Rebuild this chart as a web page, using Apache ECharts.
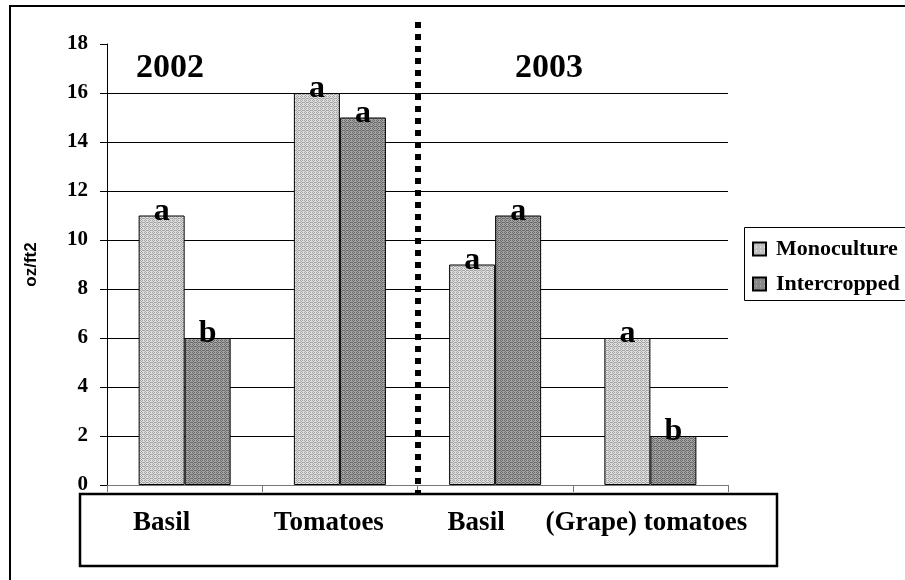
<!DOCTYPE html>
<html>
<head>
<meta charset="utf-8">
<script src="https://cdn.jsdelivr.net/npm/echarts@6/dist/echarts.min.js"></script>
<style>
  html, body { margin: 0; padding: 0; background: #ffffff; }
  #chart { width: 905px; height: 580px; }
</style>
</head>
<body>
<div id="chart"></div>
<script>
// Yield per crop and year (oz/ft2)
const categories = ['Basil', 'Tomatoes', 'Basil', '(Grape) tomatoes'];
const monoculture = [11, 16, 9, 6];
const intercropped = [6, 15, 11, 2];
// Significance letters drawn above each bar
const monoLetters = ['a', 'a', 'a', 'a'];
const interLetters = ['b', 'a', 'a', 'b'];
const yearLabels = ['2002', '2003'];
const yMin = 0, yMax = 18, yStep = 2;

const SERIF = '"Liberation Serif", "Times New Roman", serif';

// Small stippled fills for the bars
function stipple(light, dark) {
  const c = document.createElement('canvas');
  c.width = 4; c.height = 4;
  const g = c.getContext('2d');
  g.fillStyle = light; g.fillRect(0, 0, 4, 4);
  g.fillStyle = dark;
  [[0,0],[2,0],[1,1],[3,2],[0,2],[2,2],[1,3]].forEach(p => g.fillRect(p[0], p[1], 1, 1));
  return { image: c, repeat: 'repeat' };
}
const monoFill = stipple('#dedede', '#a4a4a4');
const interFill = stipple('#a4a4a4', '#6a6a6a');

// Per-label horizontal nudges for the category names
const labelShift = { c0: 46, c1: 22, c2: 38, c3: 8 };
const richLabels = {};
Object.keys(labelShift).forEach(k => {
  richLabels[k] = {
    fontFamily: SERIF, fontWeight: 'bold', fontSize: 27, color: '#000',
    padding: [0, labelShift[k], 0, 0]
  };
});

const chart = echarts.init(document.getElementById('chart'), null, { renderer: 'canvas' });

const letterLabel = (letters) => ({
  show: true,
  position: 'top',
  distance: -12,
  formatter: p => letters[p.dataIndex],
  fontFamily: SERIF,
  fontWeight: 'bold',
  fontSize: 32,
  color: '#000'
});

// Ten horizontal grid lines (0..18); the top one is not drawn
const splitColors = [];
for (let v = yMin; v <= yMax; v += yStep) splitColors.push(v === yMax ? 'rgba(0,0,0,0)' : '#000');

chart.setOption({
  animation: false,
  backgroundColor: '#ffffff',
  grid: { left: 107, right: 177, top: 44, bottom: 95 },
  legend: {
    orient: 'vertical',
    left: 744, top: 227,
    z: 10,
    padding: [11, 0, 5, 8],
    itemGap: 13,
    itemWidth: 13, itemHeight: 13,
    icon: 'rect',
    borderWidth: 0,
    textStyle: { fontFamily: SERIF, fontWeight: 'bold', fontSize: 22, color: '#000', padding: [0, 0, 0, 5] },
    data: ['Monoculture', 'Intercropped']
  },
  xAxis: {
    type: 'category',
    data: categories,
    axisLine: { lineStyle: { color: '#777', width: 1 } },
    axisTick: { show: true, length: 7, lineStyle: { color: '#777' } },
    axisLabel: {
      margin: 25,
      interval: 0,
      formatter: (v, i) => '{c' + i + '|' + v + '}',
      rich: richLabels
    }
  },
  yAxis: {
    type: 'value',
    min: yMin, max: yMax, interval: yStep,
    name: 'oz/ft2',
    nameLocation: 'middle',
    nameGap: 67,
    nameTextStyle: { fontFamily: '"Liberation Sans", Arial, sans-serif', fontWeight: 'bold', fontSize: 17, color: '#000' },
    axisLine: { show: true, lineStyle: { color: '#000', width: 1 } },
    axisTick: { show: true, length: 7, lineStyle: { color: '#000' } },
    axisLabel: { margin: 19, fontFamily: SERIF, fontWeight: 'bold', fontSize: 21, color: '#000' },
    splitLine: { show: true, lineStyle: { color: splitColors, width: 1 } }
  },
  series: [
    {
      name: 'Monoculture', type: 'bar', data: monoculture,
      barWidth: 46, barGap: '0%',
      itemStyle: { color: monoFill, borderColor: '#000', borderWidth: 1 },
      label: letterLabel(monoLetters)
    },
    {
      name: 'Intercropped', type: 'bar', data: intercropped,
      barWidth: 46, barGap: '0%',
      itemStyle: { color: interFill, borderColor: '#000', borderWidth: 1 },
      label: letterLabel(interLetters)
    }
  ]
});

// Divider between the two seasons, halfway between the 2nd and 3rd categories
const xa = chart.convertToPixel({ xAxisIndex: 0 }, 1);
const xb = chart.convertToPixel({ xAxisIndex: 0 }, 2);
const xDiv = Math.round((xa + xb) / 2);

chart.setOption({
  graphic: [
    { type: 'rect', id: 'frame', silent: true, z: 100,
      shape: { x: 10, y: 6, width: 1200, height: 1000 },
      style: { fill: 'none', stroke: '#000', lineWidth: 2 } },
    // Legend panel, running past the right edge of the page
    { type: 'rect', id: 'legendBox', silent: true, z: 1,
      shape: { x: 744.5, y: 227.5, width: 300, height: 73 },
      style: { fill: '#fff', stroke: '#000', lineWidth: 1 } },
    { type: 'rect', id: 'labelBox', silent: true, z: 100,
      shape: { x: 80, y: 494, width: 697, height: 72 },
      style: { fill: 'none', stroke: '#000', lineWidth: 2.5 } },
    { type: 'line', id: 'divider', silent: true, z: 100,
      shape: { x1: xDiv, y1: 22, x2: xDiv, y2: 494 },
      style: { stroke: '#000', lineWidth: 6, lineDash: [6, 6] } },
    { type: 'text', id: 'year0', silent: true, z: 100,
      x: 170, y: 68,
      style: { text: yearLabels[0], fontFamily: SERIF, fontWeight: 'bold', fontSize: 34, fill: '#000', align: 'center', verticalAlign: 'middle' } },
    { type: 'text', id: 'year1', silent: true, z: 100,
      x: 549, y: 68,
      style: { text: yearLabels[1], fontFamily: SERIF, fontWeight: 'bold', fontSize: 34, fill: '#000', align: 'center', verticalAlign: 'middle' } }
  ]
});
</script>
</body>
</html>
